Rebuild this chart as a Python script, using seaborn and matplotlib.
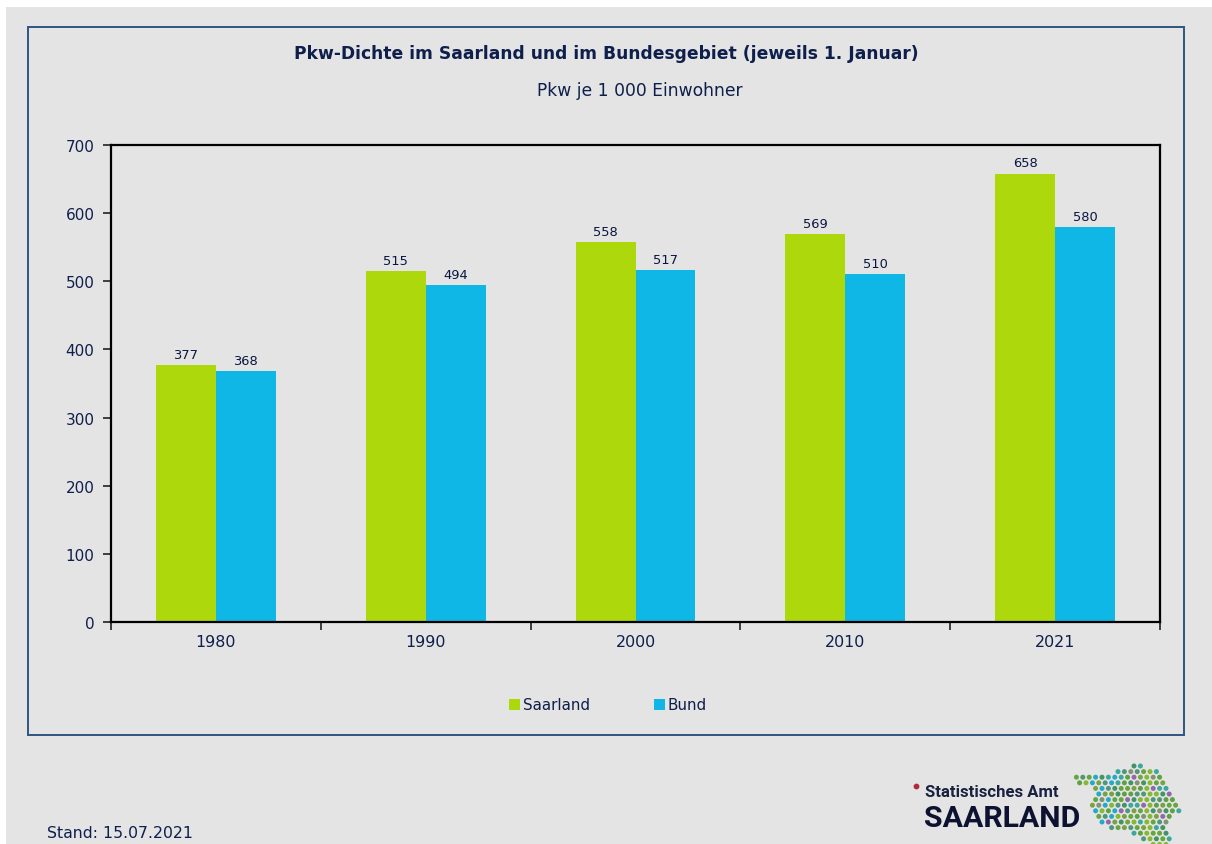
import matplotlib
matplotlib.use("Agg")
import matplotlib.pyplot as plt
from matplotlib.patches import Rectangle
from matplotlib.path import Path
import numpy as np
import pandas as pd
import seaborn as sns

years = ["1980", "1990", "2000", "2010", "2021"]
saarland = [377, 515, 558, 569, 658]
bund = [368, 494, 517, 510, 580]
series_names = ["Saarland", "Bund"]
title = "Pkw-Dichte im Saarland und im Bundesgebiet (jeweils 1. Januar)"
subtitle = "Pkw je 1 000 Einwohner"
stand = "Stand: 15.07.2021"

W, H = 1212, 845
GREY = "#e4e4e4"; NAVY = "#0f1f4b"; FRAME = "#2f5580"
GREEN = "#acd80c"; BLUE = "#0fb7e6"

sns.set_theme(style="white")
plt.rcParams["font.family"] = ["DejaVu Sans"]
fig = plt.figure(figsize=(W/100, H/100), dpi=100, facecolor="white")
def fx(x): return x/W
def fy(y): return 1-y/H

fig.add_artist(Rectangle((fx(6), 0), 1-fx(6), fy(8), transform=fig.transFigure, fc=GREY, ec="none", zorder=-5))
fig.add_artist(Rectangle((fx(28), fy(735.5)), (1184-28)/W, (735-27)/H, transform=fig.transFigure, fc="none", ec=FRAME, lw=1.4, zorder=-4))

ax = fig.add_axes([fx(111), fy(623), (1160-111)/W, (622-145)/H])
ax.set_facecolor(GREY)
df = pd.DataFrame({"Jahr": years*2,
                   "Wert": saarland+bund,
                   "Gebiet": [series_names[0]]*5+[series_names[1]]*5})
sns.barplot(data=df, x="Jahr", y="Wert", hue="Gebiet", palette=[GREEN, BLUE],
            width=120/210, gap=0, dodge=True, saturation=1, ax=ax, legend=False, linewidth=0, errorbar=None)
ax.set_xlim(-0.5, 4.5); ax.set_ylim(0, 700)
ax.set_xlabel(""); ax.set_ylabel("")
ax.set_yticks(range(0, 701, 100))
ax.tick_params(axis="y", length=5.8, width=1.1, color="#111111", labelsize=11, labelcolor=NAVY, pad=6, left=True)
ax.tick_params(axis="x", which="major", length=0, labelsize=11.4, labelcolor=NAVY, pad=9)
ax.set_xticks(np.arange(-0.5, 5, 1), minor=True)
ax.tick_params(axis="x", which="minor", length=5.8, width=1.1, color="#111111", bottom=True)
for s in ax.spines.values():
    s.set_visible(True); s.set_color("#000000"); s.set_linewidth(1.6)
for c in ax.containers:
    ax.bar_label(c, fmt="%d", padding=3, fontsize=9.4, color="#0a1640")

fig.text(fx(606), fy(54), title, ha="center", va="center", fontsize=12.35, fontweight="bold", color=NAVY)
fig.text(fx(639.5), fy(91.5), subtitle, ha="center", va="center", fontsize=12.35, color=NAVY)
fig.text(fx(47), fy(833.5), stand, ha="left", va="center", fontsize=11.35, color=NAVY)

# legend
for x0, col, name in [(509, GREEN, series_names[0]), (654, BLUE, series_names[1])]:
    fig.add_artist(Rectangle((fx(x0), fy(711)), 11/W, 11/H, transform=fig.transFigure, fc=col, ec="none"))
    fig.text(fx(x0+13.5), fy(706), name, ha="left", va="center", fontsize=10.9, color=NAVY)

# logo
fig.text(fx(925), fy(793), "Statistisches Amt", ha="left", va="center", fontsize=12, fontweight="bold",
         color="#1a2140", family="Roboto")
fig.text(fx(924), fy(819.5), "SAARLAND", ha="left", va="center", fontsize=21.8, fontweight="bold",
         color="#0c1230", family="Roboto")
logo = fig.add_axes([fx(905), fy(850), 285/W, 90/H]); logo.set_xlim(905, 1190); logo.set_ylim(850, 760); logo.axis("off")
logo.scatter([916], [787], s=10, color="#b02a3a", clip_on=False)
outline = Path([(1072,774),(1100,776),(1137,766),(1160,772),(1170,795),(1179,812),(1168,822),(1172,846),(1150,846),(1128,832),(1107,830),(1090,808),(1094,790),(1074,784)])
cols = ["#5aa02c","#2e8b57","#7ab51d","#3f8f6f","#4f9a30","#6f9a30","#2aa198","#7a8a6a","#5aa02c","#8a5aa8",
        "#7ab51d","#3f8f6f","#4f9a30","#2e8b57","#6f9a30","#5aa02c","#2aa198"]
pts=[]; pc=[]
for r, y in enumerate(np.arange(767, 846, 5.6)):
    for q, x in enumerate(np.arange(1070 + (r % 2)*3.2, 1182, 6.4)):
        if outline.contains_point((x, y)):
            pts.append((x, y))
            if 1085 < x < 1118 and (q+r) % 3 == 0: pc.append("#0fa3c8")
            else: pc.append(cols[(q*3 + r*5 + q*r) % len(cols)])
pts = np.array(pts)
logo.scatter(pts[:,0], pts[:,1], s=13, c=pc, linewidths=0, alpha=.9)

fig.savefig("out.png", dpi=100, facecolor="white")
